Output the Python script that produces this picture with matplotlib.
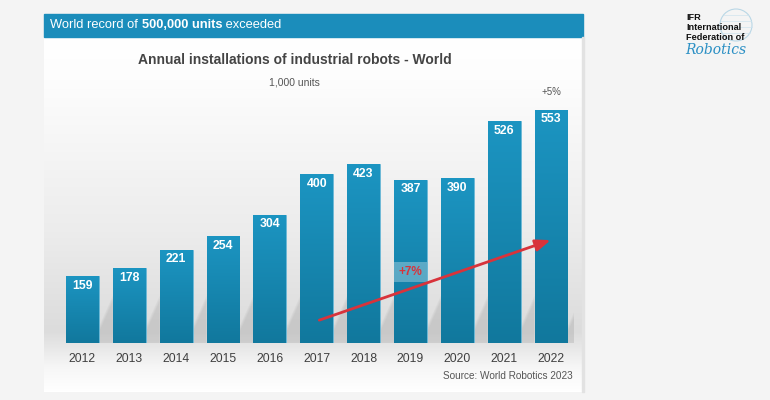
import numpy as np
import matplotlib
matplotlib.use("Agg")
import matplotlib.pyplot as plt
from matplotlib.patches import Rectangle, Polygon, Circle
from matplotlib.colors import LinearSegmentedColormap

plt.rcParams["font.family"] = ["Liberation Sans", "DejaVu Sans"]

years = ["2012", "2013", "2014", "2015", "2016", "2017", "2018", "2019", "2020", "2021", "2022"]
installs = [159, 178, 221, 254, 304, 400, 423, 387, 390, 526, 553]
cagr_label = "+7%"
last_growth = "+5%"
trend_start = (5, 52)     # (year index, value) of the trend arrow tail
trend_end = (10.05, 246)  # arrow head
cagr_box = (7, 145, 193)  # year index, lower, upper value of the label box
header_parts = [("World record of ", "normal"), ("500,000 units", "bold"), (" exceeded", "normal")]

BLUE_TOP = "#1c95c2"
BLUE_BOT = "#11789d"
RED = "#d8333b"

fig = plt.figure(figsize=(7.7, 4.0), dpi=100)
fig.patch.set_facecolor("#f4f4f4")

W, H = 770, 400


def fx(px):
    return px / W


def fy(py):
    return 1 - py / H


# panel background with vertical gradient
bg = fig.add_axes([fx(44), fy(392), fx(582) - fx(44), fy(37) - fy(392)])
bg.set_axis_off()
stops = [(0.0, "#ffffff"), (0.12, "#fdfdfd"), (0.55, "#ececec"), (0.83, "#dcdcdc"),
         (0.87, "#e6e6e6"), (0.93, "#f6f6f6"), (1.0, "#ffffff")]
cmap_bg = LinearSegmentedColormap.from_list("bg", stops)
bg.imshow(np.linspace(0, 1, 256).reshape(-1, 1), aspect="auto", cmap=cmap_bg,
          extent=(0, 1, 1, 0))
bg.set_xlim(0, 1)
bg.set_ylim(1, 0)

# header bar
fig.patches.append(Rectangle((fx(44), fy(37)), fx(583) - fx(44), fy(14) - fy(37),
                             transform=fig.transFigure, color="#1b8dbb", zorder=1))
fig.patches.append(Rectangle((fx(582), fy(392)), fx(2), fy(37) - fy(392),
                             transform=fig.transFigure, color="#e2e2e2", zorder=1))
renderer = fig.canvas.get_renderer()
xpos = 50
for part, weight in header_parts:
    t = fig.text(fx(xpos), fy(25.5), part.replace(" ", "\u00a0"), color="white",
                 fontsize=9.3, fontweight=weight, va="center")
    xpos += t.get_window_extent(renderer).width

fig.text(fx(295), fy(60), "Annual installations of industrial robots - World",
         ha="center", va="center", fontsize=10, fontweight="bold", color="#444444")
fig.text(fx(294), fy(82.5), "1,000 units", ha="center", va="center",
         fontsize=7.5, color="#555555")

# main bar chart
ax = fig.add_axes([fx(59), fy(343), fx(574.4) - fx(59), fy(60) - fy(343)])
ax.patch.set_alpha(0)
x = np.arange(len(years))

# soft shadows between the bars
for i, v in enumerate(installs):
    r = i + 0.35
    for k, a in enumerate([0.09, 0.09, 0.09]):
        d = k * 6
        shadow = Polygon([(r, 0), (r, 25 + d), (r + 0.3, 100 + d), (r + 0.3, 0)],
                         closed=True, facecolor="#8f8f8f", alpha=a, lw=0, zorder=1)
        ax.add_patch(shadow)

cmap_bar = LinearSegmentedColormap.from_list("bar", [BLUE_BOT, BLUE_TOP])
bars = ax.bar(x, installs, width=0.7, color=BLUE_TOP, edgecolor="#6bb8d6",
              linewidth=0.6, zorder=2)
for b, v in zip(bars, installs):
    x0 = b.get_x()
    im = ax.imshow(np.linspace(0, 1, 128).reshape(-1, 1), aspect="auto", cmap=cmap_bar,
                   origin="lower", extent=(x0, x0 + b.get_width(), 0, v), zorder=2.5)
    im.set_clip_path(b)
    ax.text(b.get_x() + b.get_width() / 2, v - 23, str(v), ha="center", va="center",
            color="white", fontsize=8.8, fontweight="bold", zorder=4)
ax.set_xlim(-0.5, len(years) - 0.5)
ax.set_ylim(0, 283 / 0.422)

ax.text(x[-1], installs[-1] + 42, last_growth, ha="center", va="center",
        fontsize=7, color="#555555")

bi, lo, hi = cagr_box
ax.add_patch(Rectangle((bi - 0.35, lo), 0.7, hi - lo, facecolor="white", alpha=0.3,
                       lw=0, zorder=3))
ax.text(bi, (lo + hi) / 2, cagr_label, ha="center", va="center", color=RED,
        fontsize=8.5, fontweight="bold", zorder=4)
ax.annotate("", xy=trend_end, xytext=trend_start,
            arrowprops=dict(arrowstyle="-|>,head_length=0.9,head_width=0.35",
                            color=RED, lw=2), zorder=5)

ax.set_xticks(x)
ax.set_xticklabels(years, fontsize=8.7, color="#3f3f3f")
ax.tick_params(axis="x", length=0, pad=7)
ax.set_yticks([])
for s in ax.spines.values():
    s.set_visible(False)

fig.text(fx(573), fy(376), "Source: World Robotics 2023", ha="right", va="center",
         fontsize=7.2, color="#555555")

# IFR logo
logo = fig.add_axes([0, 0, 1, 1])
logo.set_axis_off()
logo.set_xlim(0, W)
logo.set_ylim(H, 0)
logo.patch.set_alpha(0)
logo.add_patch(Circle((736, 25), 16, fill=False, ec="#b9d7e6", lw=0.8))
for dy in (-10, -4, 2, 8):
    half = np.sqrt(max(16 ** 2 - dy ** 2, 0))
    logo.plot([736 - half, 736 + half], [25 + dy, 25 + dy], color="#cfe3ee", lw=0.5)
for line, ypx in zip(["IFR", "International", "Federation of"], [18, 27.5, 37]):
    logo.text(686, ypx, line, fontsize=6.6, fontweight="bold", va="center", ha="left",
              color="#111111")
logo.text(685, 50, "Robotics", fontsize=10, style="italic", color="#2a8fc4",
          va="center", ha="left", family="DejaVu Serif")

fig.savefig("out.png", dpi=100, facecolor=fig.get_facecolor())
